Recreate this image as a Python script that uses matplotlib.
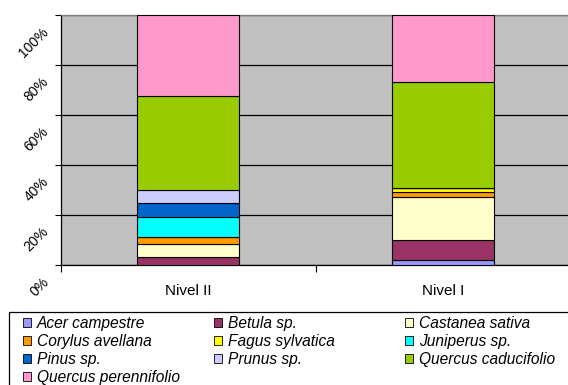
import numpy as np
import matplotlib
matplotlib.use('Agg')
import matplotlib.pyplot as plt
from matplotlib.patches import Patch, Rectangle
from matplotlib.transforms import ScaledTranslation

plt.rcParams['font.family'] = ['Liberation Sans', 'DejaVu Sans']

# Composición por especie en cada nivel (% del total)
niveles = ['Nivel II', 'Nivel I']
especies = ['Acer campestre', 'Betula sp.', 'Castanea sativa',
            'Corylus avellana', 'Fagus sylvatica', 'Juniperus sp.',
            'Pinus sp.', 'Prunus sp.', 'Quercus caducifolio',
            'Quercus perennifolio']
nivel_2 = [0.0, 3.0, 5.3, 2.7, 0.0, 8.0, 5.5, 5.5, 37.7, 32.3]
nivel_1 = [1.7, 8.0, 17.5, 1.8, 1.5, 0.0, 0.0, 0.0, 42.8, 26.7]
colores = ['#9999FF', '#993366', '#FFFFCC', '#FF9900', '#FFFF00',
           '#00FFFF', '#0066CC', '#CCCCFF', '#99CC00', '#FF99CC']
y_ticks = [0, 20, 40, 60, 80, 100]
y_labels = ['0%', '20%', '40%', '60%', '80%', '100%']

datos = np.array([nivel_2, nivel_1])
datos = datos / datos.sum(axis=1, keepdims=True) * 100

W, H = 568, 385
fig = plt.figure(figsize=(W / 100, H / 100), dpi=100)
ax = fig.add_axes([60.5 / W, (H - 264.5) / H, 510 / W, 249.5 / H])
ax.set_facecolor('#C0C0C0')

x = np.arange(len(niveles))
base = np.zeros(len(niveles))
handles = []
for i, esp in enumerate(especies):
    ax.bar(x, datos[:, i], 0.4, bottom=base, color=colores[i],
           edgecolor='black', linewidth=0.8, zorder=3)
    base += datos[:, i]
    handles.append(Patch(facecolor=colores[i], edgecolor='black',
                         linewidth=0.6, label=esp))

ax.set_xlim(-0.5, 1.5)
ax.set_ylim(0, 100)

# eje Y con etiquetas giradas
ax.set_yticks(y_ticks, y_labels)
ax.tick_params(axis='y', length=4, width=0.8, direction='out', pad=6,
               labelsize=10)
for lbl in ax.get_yticklabels():
    lbl.set_rotation(45)
    lbl.set_ha('right')
    lbl.set_va('center')
    lbl.set_rotation_mode('anchor')
    lbl.set_transform(lbl.get_transform() +
                      ScaledTranslation(0, -15 / 100, fig.dpi_scale_trans))
ax.yaxis.grid(True, color='black', linewidth=0.9)
ax.set_axisbelow(True)

# eje X: separadores entre categorías
ax.set_xticks(x, niveles)
ax.set_xticks([-0.5, 0.5, 1.5], minor=True)
ax.tick_params(axis='x', which='major', length=0, pad=14, labelsize=11)
ax.tick_params(axis='x', which='minor', length=5, width=0.8,
               direction='out')

for s in ['left', 'bottom']:
    ax.spines[s].set_color('black')
    ax.spines[s].set_linewidth(0.9)
for s in ['top', 'right']:
    ax.spines[s].set_color('#808080')
    ax.spines[s].set_linewidth(0.9)

# leyenda en tres columnas dentro de un marco
fig.patches.append(Rectangle((9 / W, -0.1), 1.0, (H - 312) / H + 0.1,
                             transform=fig.transFigure, fill=False,
                             edgecolor='black', linewidth=0.9))
columnas = [[0, 3, 6, 9], [1, 4, 7], [2, 5, 8]]
col_x = [23, 214, 405]
for idx, cx in zip(columnas, col_x):
    fig.legend(handles=[handles[i] for i in idx], loc='upper left',
               bbox_to_anchor=(cx / W, (H - 316) / H),
               frameon=False, borderpad=0, borderaxespad=0,
               handlelength=0.5, handleheight=0.5, handletextpad=0.4,
               labelspacing=0.2,
               prop={'style': 'italic', 'size': 11.2})

fig.savefig('out.png', dpi=100)
